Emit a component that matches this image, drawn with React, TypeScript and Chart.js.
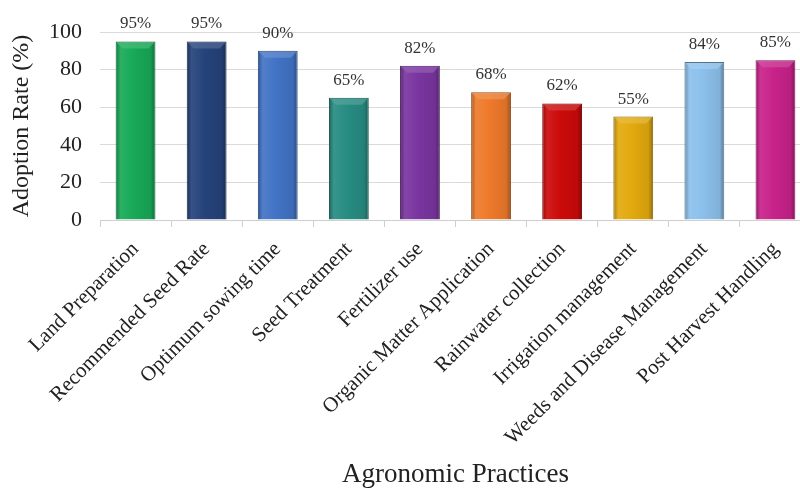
import React, { useEffect, useRef } from "react";
import { Chart, registerables } from "chart.js";

Chart.register(...registerables);

const categories: string[] = [
  "Land Preparation",
  "Recommended Seed Rate",
  "Optimum sowing time",
  "Seed Treatment",
  "Fertilizer use",
  "Organic Matter Application",
  "Rainwater collection",
  "Irrigation management",
  "Weeds and Disease Management",
  "Post Harvest Handling",
];

const adoptionRates: number[] = [95, 95, 90, 65, 82, 68, 62, 55, 84, 85];

const barColors: string[] = [
  "#18a957",
  "#25427a",
  "#4273c5",
  "#278c82",
  "#7a35a0",
  "#ee7a2b",
  "#cc0a0a",
  "#e3aa0e",
  "#8cc0ec",
  "#c8228a",
];

const yTicks: number[] = [0, 20, 40, 60, 80, 100];

const SERIF = "'Liberation Serif', 'Times New Roman', serif";
const BAR_PCT = 0.56;

function shade(hex: string, f: number): string {
  const n = parseInt(hex.slice(1), 16);
  let r = (n >> 16) & 255;
  let g = (n >> 8) & 255;
  let b = n & 255;
  if (f < 1) {
    r = Math.round(r * f);
    g = Math.round(g * f);
    b = Math.round(b * f);
  } else {
    const t = f - 1;
    r = Math.round(r + (255 - r) * t);
    g = Math.round(g + (255 - g) * t);
    b = Math.round(b + (255 - b) * t);
  }
  return `rgb(${r},${g},${b})`;
}

const valueLabelPlugin = {
  id: "valueLabels",
  afterDatasetsDraw(chart: any) {
    const ctx = chart.ctx;
    const meta = chart.getDatasetMeta(0);
    ctx.save();
    ctx.font = `17px ${SERIF}`;
    ctx.fillStyle = "#333333";
    ctx.textAlign = "center";
    ctx.textBaseline = "bottom";
    meta.data.forEach((bar: any, i: number) => {
      ctx.fillText(`${adoptionRates[i]}%`, bar.x, bar.y - 9);
    });
    ctx.restore();
  },
};

const bevelPlugin = {
  id: "bevel",
  afterDatasetDraw(chart: any) {
    const ctx = chart.ctx;
    const meta = chart.getDatasetMeta(0);
    ctx.save();
    meta.data.forEach((bar: any, i: number) => {
      const w = bar.width;
      const l = bar.x - w / 2;
      const r = bar.x + w / 2;
      const t = bar.y;
      const h = 7;
      ctx.beginPath();
      ctx.moveTo(l + 1, t + 1);
      ctx.lineTo(r - 1, t + 1);
      ctx.lineTo(r - h, t + h);
      ctx.lineTo(l + h, t + h);
      ctx.closePath();
      ctx.fillStyle = shade(barColors[i], 1.25);
      ctx.globalAlpha = 0.6;
      ctx.fill();
    });
    ctx.restore();
  },
};

export default function App() {
  const canvasRef = useRef<HTMLCanvasElement | null>(null);

  useEffect(() => {
    if (!canvasRef.current) return;
    const chart = new Chart(canvasRef.current, {
      type: "bar",
      data: {
        labels: categories,
        datasets: [
          {
            data: adoptionRates,
            backgroundColor: (c: any) => {
              const base = barColors[c.dataIndex % barColors.length];
              const ch = c.chart;
              if (!ch.chartArea || c.type !== "data" || !ch.scales.x) return base;
              const xs = ch.scales.x;
              const cx = xs.getPixelForValue(c.dataIndex);
              const w = (xs.width / categories.length) * BAR_PCT;
              const g = ch.ctx.createLinearGradient(cx - w / 2, 0, cx + w / 2, 0);
              g.addColorStop(0, shade(base, 0.72));
              g.addColorStop(0.12, shade(base, 1.08));
              g.addColorStop(0.45, base);
              g.addColorStop(0.88, shade(base, 0.92));
              g.addColorStop(1, shade(base, 0.65));
              return g;
            },
            borderColor: barColors.map((c) => shade(c, 0.6)),
            borderWidth: 1,
            barPercentage: BAR_PCT,
            categoryPercentage: 1,
          },
        ],
      },
      options: {
        animation: false,
        responsive: false,
        devicePixelRatio: 1,
        layout: { padding: { top: 32, left: 0, right: 0, bottom: 0 } },
        plugins: {
          legend: { display: false },
          tooltip: { enabled: false },
        },
        scales: {
          x: {
            offset: true,
            grid: {
              drawOnChartArea: false,
              drawTicks: true,
              tickLength: 7,
              color: "#cfcfcf",
            },
            border: { display: true, color: "#cfcfcf" },
            ticks: {
              autoSkip: false,
              minRotation: 45,
              maxRotation: 45,
              padding: 10,
              color: "#222222",
              font: { family: SERIF, size: 21 },
            },
            title: {
              display: true,
              text: "Agronomic Practices",
              color: "#222222",
              font: { family: SERIF, size: 27 },
              padding: { top: 0, bottom: 0 },
            },
            afterFit: (s: any) => {
              s.height = 271;
            },
          },
          y: {
            min: 0,
            max: 100,
            afterBuildTicks: (s: any) => {
              s.ticks = yTicks.map((v) => ({ value: v }));
            },
            grid: { color: "#dadada", drawTicks: false },
            border: { display: false },
            ticks: {
              padding: 18,
              color: "#222222",
              font: { family: SERIF, size: 22 },
            },
            title: {
              display: true,
              text: "Adoption Rate (%)",
              color: "#222222",
              font: { family: SERIF, size: 24 },
              padding: { top: 7, bottom: 0 },
            },
            afterFit: (s: any) => {
              s.width = 100;
            },
          },
        },
      },
      plugins: [bevelPlugin, valueLabelPlugin],
    });
    return () => chart.destroy();
  }, []);

  return (
    <div
      style={{
        position: "fixed",
        left: 0,
        top: 0,
        width: 800,
        height: 491,
        overflow: "hidden",
        background: "#ffffff",
      }}
    >
      <canvas
        ref={canvasRef}
        width={811}
        height={491}
        style={{ width: 811, height: 491, display: "block" }}
      />
    </div>
  );
}
